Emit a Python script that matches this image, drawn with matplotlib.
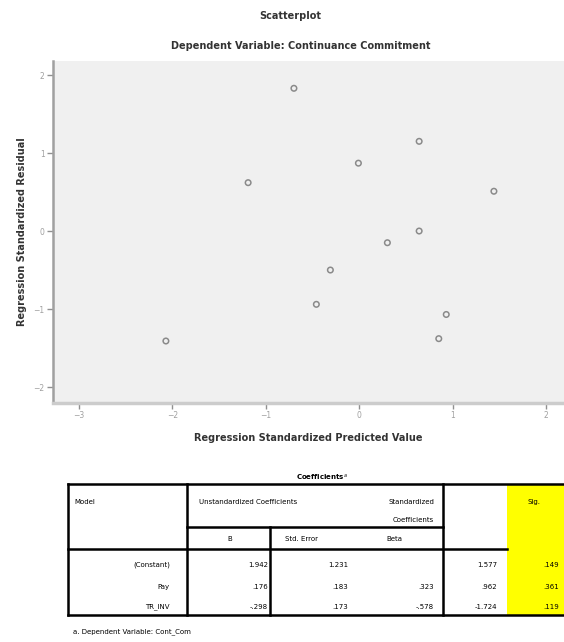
import matplotlib.pyplot as plt
from matplotlib.patches import Rectangle

# standardized predicted values vs standardized residuals
pred = [-0.70, 0.64, -0.01, -1.19, 1.44, 0.64, 0.30, -0.31, -0.46, 0.93, -2.07, 0.85]
resid = [1.83, 1.15, 0.87, 0.62, 0.51, 0.00, -0.15, -0.50, -0.94, -1.07, -1.41, -1.38]

xticks = [-3, -2, -1, 0, 1, 2]
yticks = [-2, -1, 0, 1, 2]

# coefficients table
row_names = ['(Constant)', 'Pay', 'TR_INV']
coef_b = ['1.942', '.176', '-.298']
coef_se = ['1.231', '.183', '.173']
coef_beta = ['', '.323', '-.578']
coef_t = ['1.577', '.962', '-1.724']
coef_sig = ['.149', '.361', '.119']

W, H = 564, 642
fig = plt.figure(figsize=(W / 100, H / 100), dpi=100)
fig.patch.set_facecolor('white')

# scatterplot area
ax = fig.add_axes([53 / W, 1 - 403 / H, (W - 53) / W, (403 - 61) / H])
ax.set_facecolor('#f0f0f0')
ax.scatter(pred, resid, s=16, facecolors='none', edgecolors='#8a8a8a', linewidths=1.1)
ax.set_xlim(-3.278, 2.19)
ax.set_ylim(-2.205, 2.18)
ax.set_xticks(xticks)
ax.set_yticks(yticks)
ax.tick_params(direction='out', length=4, width=1, colors='#909090', labelsize=5.5,
               labelcolor='#a0a0a0', pad=2)
for s in ['top', 'right']:
    ax.spines[s].set_visible(False)
ax.spines['left'].set_color('#a0a0a0')
ax.spines['left'].set_linewidth(1.8)
ax.spines['bottom'].set_color('#cccccc')
ax.spines['bottom'].set_linewidth(2.5)
ax.set_xlabel('Regression Standardized Predicted Value', fontsize=7, fontweight='bold',
              color='#333333', labelpad=9)
ax.set_ylabel('Regression Standardized Residual', fontsize=7, fontweight='bold',
              color='#333333', labelpad=5)

fig.text(290 / W, 1 - 16 / H, 'Scatterplot', ha='center', va='center',
         fontsize=7, fontweight='bold', color='#333333')
fig.text(301 / W, 1 - 46 / H, 'Dependent Variable: Continuance Commitment', ha='center',
         va='center', fontsize=7, fontweight='bold', color='#333333')

# table drawn in pixel coordinates
tb = fig.add_axes([0, 0, 1, 1], zorder=-1)
tb.set_xlim(0, W)
tb.set_ylim(H, 0)
tb.axis('off')
tb.add_patch(Rectangle((507, 484), 60, 131, facecolor='#ffff00', edgecolor='none'))

lw = 1.8
tb.plot([68, W], [484, 484], color='black', lw=lw)
tb.plot([68, W], [615, 615], color='black', lw=lw)
tb.plot([68, 507], [549, 549], color='black', lw=lw)
tb.plot([187, 443], [527, 527], color='black', lw=lw)
tb.plot([68, 68], [484, 615], color='black', lw=lw)
tb.plot([187, 187], [484, 615], color='black', lw=lw)
tb.plot([443, 443], [484, 615], color='black', lw=lw)
tb.plot([270, 270], [527, 615], color='black', lw=lw)

fs = 5
tb.text(322, 477, 'Coefficients$^{a}$', ha='center', va='center', fontsize=fs, fontweight='bold')
tb.text(74, 502, 'Model', ha='left', va='center', fontsize=fs)
tb.text(199, 502, 'Unstandardized Coefficients', ha='left', va='center', fontsize=fs)
tb.text(434, 502, 'Standardized', ha='right', va='center', fontsize=fs)
tb.text(434, 520, 'Coefficients', ha='right', va='center', fontsize=fs)
tb.text(230, 539, 'B', ha='center', va='center', fontsize=fs)
tb.text(285, 539, 'Std. Error', ha='left', va='center', fontsize=fs)
tb.text(386, 539, 'Beta', ha='left', va='center', fontsize=fs)
tb.text(528, 502, 'Sig.', ha='left', va='center', fontsize=fs)

row_y = [565, 587, 607]
for i, y in enumerate(row_y):
    tb.text(170, y, row_names[i], ha='right', va='center', fontsize=fs)
    tb.text(268, y, coef_b[i], ha='right', va='center', fontsize=fs)
    tb.text(348, y, coef_se[i], ha='right', va='center', fontsize=fs)
    tb.text(434, y, coef_beta[i], ha='right', va='center', fontsize=fs)
    tb.text(497, y, coef_t[i], ha='right', va='center', fontsize=fs)
    tb.text(543, y, coef_sig[i], ha='left', va='center', fontsize=fs)

tb.text(73, 632, 'a. Dependent Variable: Cont_Com', ha='left', va='center', fontsize=fs)

fig.savefig('out.png', dpi=100)
